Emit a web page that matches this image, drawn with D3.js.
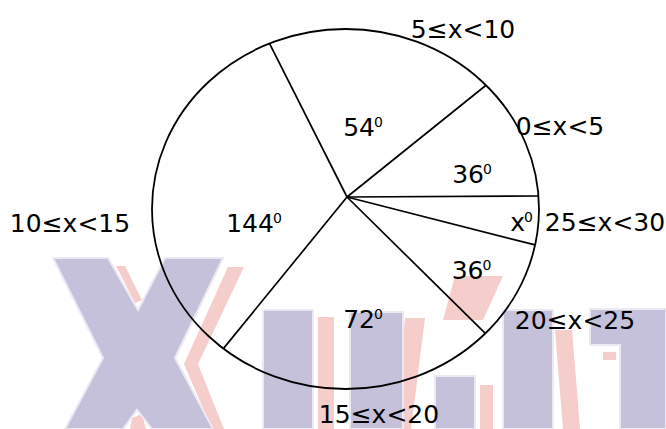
<!DOCTYPE html>
<html><head><meta charset="utf-8">
<script src="https://cdn.jsdelivr.net/npm/d3@7"></script>
<style>html,body{margin:0;padding:0;background:#fff} svg{display:block}</style>
</head><body>
<svg id="chart" width="666" height="429"></svg>
<script>
// ---------------- data ----------------
// sectors listed clockwise, starting from the upper-left boundary line
const categories  = ["5\u2264x<10", "0\u2264x<5", "25\u2264x<30", "20\u2264x<25", "15\u2264x<20", "10\u2264x<15"];
const angleLabels = ["54", "36", "x", "36", "72", "144"];          // written angle (degrees)
const drawnSpans  = [78, 38.5, 14.6, 30.3, 84.6, 114];            // sector size as actually drawn (degrees)
const firstBoundaryDeg = -26.8;                                    // clockwise from 12 o'clock

// ---------------- layout ----------------
const W = 666, H = 429;
const ellipse = {cx: 345.5, cy: 209, rx: 193.5, ry: 180};
const hub = {x: 347, y: 197};
const outerLabelPos = [[463, 38], [560, 135], [605, 231], [575, 329], [379, 423], [70, 232]];
const innerLabelPos = [[363, 136], [472, 183], [521.5, 231], [471.5, 279], [363, 328], [254, 232]];
const FONT = "'DejaVu Sans', Verdana, sans-serif";

const svg = d3.select("#chart");

// ---------------- background watermark (decoration) ----------------
const wmBlue = "#c5c1da", wmPink = "#f5cdca";
const wmPinkShapes = [
  [[228,267],[244,267],[198,364],[224,429],[212,429],[184,364]],
  [[116,266],[125,266],[142,300],[135,303]],
  [[132,418],[142,414],[146,429],[130,429]],
  [[318,317],[334,317],[334,429],[318,429]],
  [[405,318],[425,318],[411,429],[395,429]],
  [[455,276],[503,276],[483,320],[443,320]],
  [[480,385],[493,385],[493,429],[480,429]],
  [[555,330],[572,330],[580,429],[563,429]],
  [[603,352],[616,352],[616,360],[603,360]]
];
const wmBlueShapes = [
  [[53,258],[108,258],[138,310],[165,258],[223,258],[175,358],[213,429],[152,429],[137,410],[123,429],[65,429],[103,358]],
  [[263,310],[313,310],[313,429],[263,429]],
  [[350,312],[403,312],[403,429],[350,429]],
  [[435,376],[475,376],[475,429],[435,429]],
  [[503,310],[553,310],[553,429],[503,429]],
  [[590,309],[666,309],[666,429],[620,429],[620,345],[590,345]]
];
const wm = svg.append("g").attr("class", "watermark");
wm.selectAll("path.pink").data(wmPinkShapes).join("path")
  .attr("class", "pink").attr("d", d => d3.line()(d) + "Z").attr("fill", wmPink);
wm.selectAll("path.blue").data(wmBlueShapes).join("path")
  .attr("class", "blue").attr("d", d => d3.line()(d) + "Z")
  .attr("fill", wmBlue).attr("stroke", "#ece9f3").attr("stroke-width", 2);

// ---------------- pie geometry ----------------
const deg = d3.scaleLinear().domain([0, 360]).range([0, 2 * Math.PI]);
const pie = d3.pie().sort(null).value(d => d)
  .startAngle(deg(firstBoundaryDeg)).endAngle(deg(firstBoundaryDeg + 360));
const arcs = pie(drawnSpans);

// intersection of a ray from the hub with the ellipse outline
function rimPoint(a) {
  const ux = Math.sin(a), uy = -Math.cos(a);
  const px = (hub.x - ellipse.cx) / ellipse.rx, py = (hub.y - ellipse.cy) / ellipse.ry;
  const dx = ux / ellipse.rx, dy = uy / ellipse.ry;
  const A = dx * dx + dy * dy, B = 2 * (px * dx + py * dy), C = px * px + py * py - 1;
  const t = (-B + Math.sqrt(B * B - 4 * A * C)) / (2 * A);
  return [hub.x + t * ux, hub.y + t * uy];
}

const g = svg.append("g").attr("class", "pie");
g.append("ellipse")
  .attr("cx", ellipse.cx).attr("cy", ellipse.cy)
  .attr("rx", ellipse.rx).attr("ry", ellipse.ry)
  .attr("fill", "none").attr("stroke", "#000").attr("stroke-width", 1.8);

g.selectAll("line.boundary").data(arcs).join("line")
  .attr("class", "boundary")
  .attr("x1", hub.x).attr("y1", hub.y)
  .attr("x2", d => rimPoint(d.startAngle)[0])
  .attr("y2", d => rimPoint(d.startAngle)[1])
  .attr("stroke", "#000").attr("stroke-width", 1.7);

// ---------------- labels ----------------
const labels = svg.append("g").attr("font-family", FONT).attr("fill", "#000");

labels.selectAll("text.cat").data(categories).join("text")
  .attr("class", "cat")
  .attr("x", (d, i) => outerLabelPos[i][0]).attr("y", (d, i) => outerLabelPos[i][1])
  .attr("text-anchor", "middle").attr("font-size", 25)
  .text(d => d);

const inner = labels.selectAll("text.ang").data(angleLabels).join("text")
  .attr("class", "ang")
  .attr("x", (d, i) => innerLabelPos[i][0]).attr("y", (d, i) => innerLabelPos[i][1])
  .attr("text-anchor", "middle").attr("font-size", 25);
inner.append("tspan").text(d => d);
inner.append("tspan").attr("font-size", 14).attr("dy", -9).attr("dx", -1).text("0");
</script>
</body></html>
